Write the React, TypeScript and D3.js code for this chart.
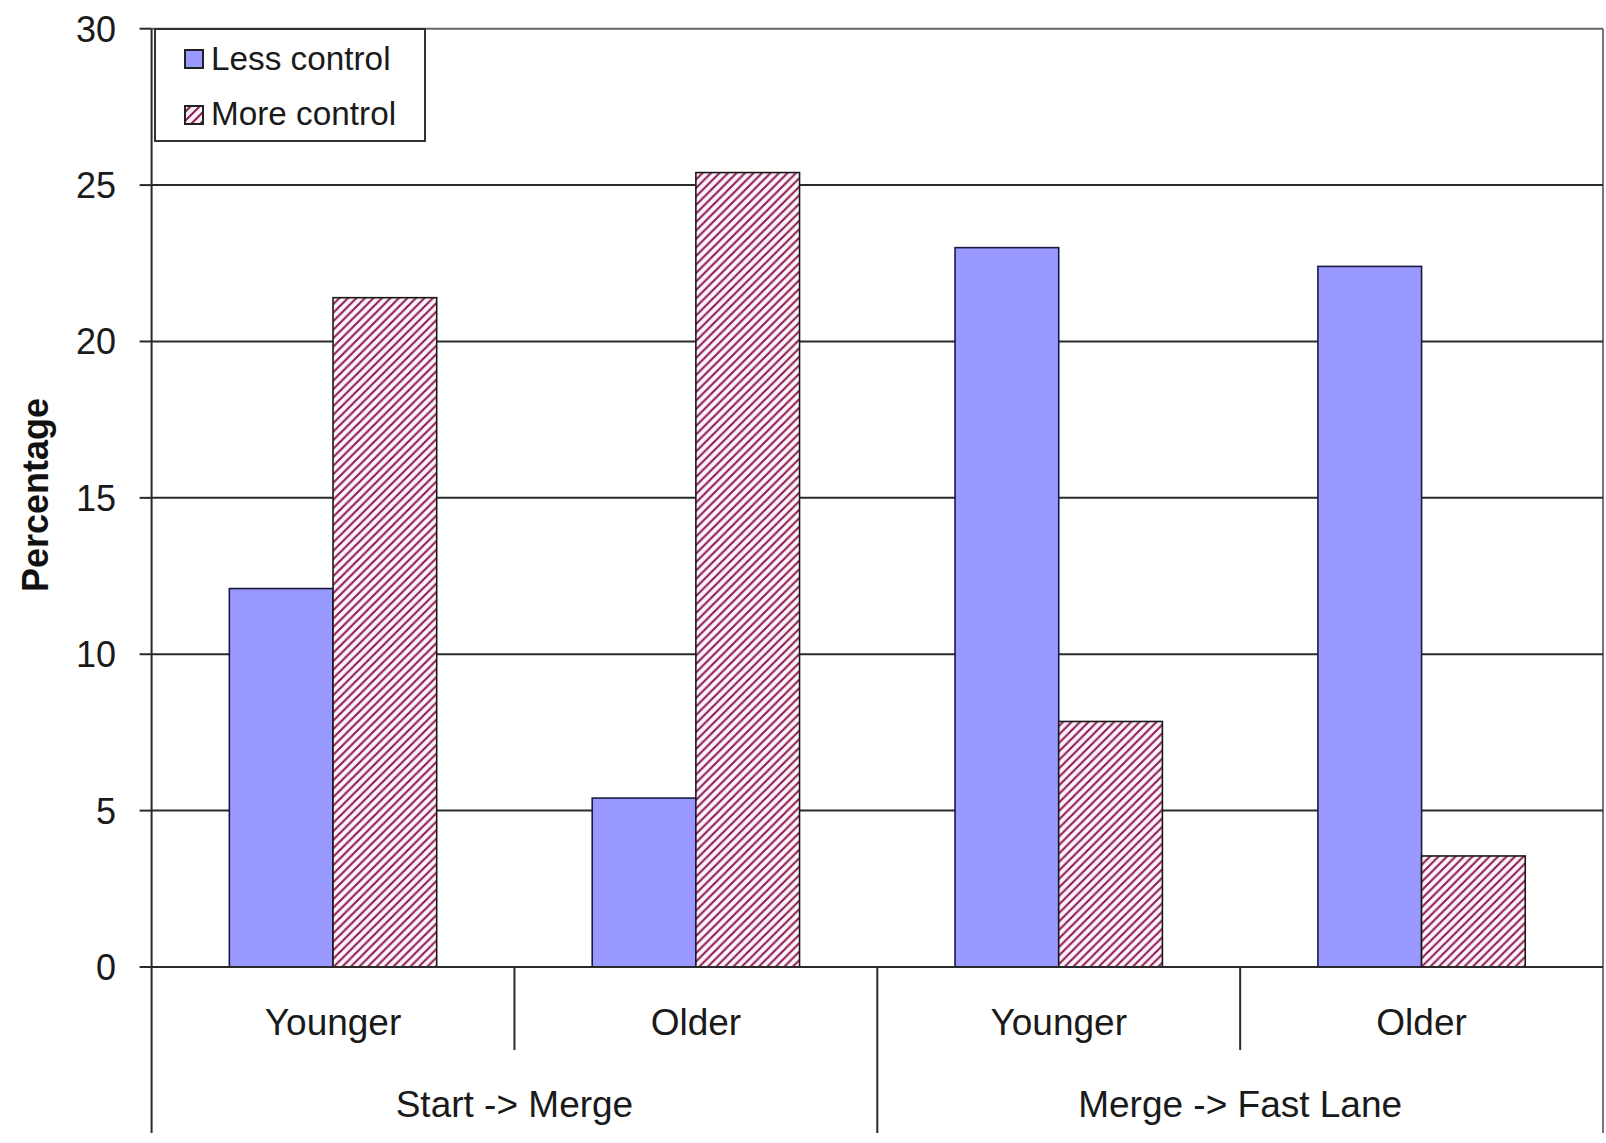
import React from "react";
import * as d3 from "d3";

const groups = ["Start -> Merge", "Merge -> Fast Lane"];
const subCategories = ["Younger", "Older", "Younger", "Older"];
const subGroupIndex = [0, 0, 1, 1];
const seriesNames = ["Less control", "More control"];
const lessControl = [12.1, 5.4, 23.0, 22.4];
const moreControl = [21.4, 25.4, 7.85, 3.55];
const yTicks = [0, 5, 10, 15, 20, 25, 30];
const yLabel = "Percentage";

const W = 1606;
const H = 1143;
const FONT = "'Liberation Sans', Arial, Helvetica, sans-serif";

export default function App() {
  const left = 151.6;
  const right = 1603;
  const top = 28.7;
  const bottom = 967;
  const axisBottom = 1133;

  const y = d3.scaleLinear().domain([0, 30]).range([bottom, top]);
  const x = d3
    .scaleBand<number>()
    .domain(subCategories.map((_, i) => i))
    .range([left, right])
    .paddingInner(0)
    .paddingOuter(0);
  const band = x.bandwidth();
  const barW = band / 3.5;
  const pairStart = (i: number) => (x(i) as number) + (band - 2 * barW) / 2;

  const groupX = d3
    .scaleBand<number>()
    .domain(groups.map((_, i) => i))
    .range([left, right]);

  const series = [lessControl, moreControl];
  const fills = ["#9999FF", "url(#hatch)"];
  const strokes = ["#1a1a40", "#1a1a1a"];

  return (
    <svg
      width={W}
      height={H}
      style={{ position: "absolute", left: 0, top: 0, display: "block", background: "#fff" }}
      fontFamily={FONT}
    >
      <defs>
        <pattern id="hatch" patternUnits="userSpaceOnUse" width={8.5} height={8.5}>
          <rect width={8.5} height={8.5} fill="#fff2f8" />
          <path
            d="M-2,2 L2,-2 M0,8.5 L8.5,0 M6.5,10.5 L10.5,6.5"
            stroke="#8a2055"
            strokeWidth={2.1}
          />
        </pattern>
        <pattern id="hatchSmall" patternUnits="userSpaceOnUse" width={9} height={9}>
          <rect width={9} height={9} fill="#fff2f8" />
          <path d="M-2,2 L2,-2 M0,9 L9,0 M7,11 L11,7" stroke="#8a2055" strokeWidth={2} />
        </pattern>
      </defs>

      {/* plot border (right) */}
      <line x1={right} x2={right} y1={top} y2={axisBottom} stroke="#777" strokeWidth={2} />

      {/* gridlines */}
      {yTicks
        .filter((t) => t > 0)
        .map((t) => (
          <line
            key={`g${t}`}
            x1={left}
            x2={right}
            y1={y(t)}
            y2={y(t)}
            stroke={t === 30 ? "#666" : "#2a2a2a"}
            strokeWidth={2}
          />
        ))}

      {/* bars */}
      {subCategories.map((_, i) =>
        series.map((vals, s) => (
          <rect
            key={`b${i}-${s}`}
            x={pairStart(i) + s * barW}
            y={y(vals[i])}
            width={barW}
            height={y(0) - y(vals[i])}
            fill={fills[s]}
            stroke={strokes[s]}
            strokeWidth={1.6}
          />
        ))
      )}

      {/* y axis */}
      <line x1={left} x2={left} y1={top} y2={axisBottom} stroke="#2a2a2a" strokeWidth={2} />
      {yTicks.map((t) => (
        <g key={`t${t}`}>
          <line x1={left - 12} x2={left} y1={y(t)} y2={y(t)} stroke="#2a2a2a" strokeWidth={2} />
          <text
            x={116}
            y={y(t)}
            dy="0.36em"
            textAnchor="end"
            fontSize={36}
            fill="#1a1a1a"
          >
            {t}
          </text>
        </g>
      ))}
      <text
        transform={`translate(48, 495) rotate(-90)`}
        textAnchor="middle"
        fontSize={36}
        fontWeight="bold"
        fill="#111"
      >
        {yLabel}
      </text>

      {/* category axis */}
      <line x1={left} x2={right} y1={bottom} y2={bottom} stroke="#2a2a2a" strokeWidth={2} />
      {subCategories.map((_, i) => {
        if (i === 0) return null;
        const xx = x(i) as number;
        const isGroupBoundary = subGroupIndex[i] !== subGroupIndex[i - 1];
        return (
          <line
            key={`d${i}`}
            x1={xx}
            x2={xx}
            y1={bottom}
            y2={isGroupBoundary ? axisBottom : 1050}
            stroke="#2a2a2a"
            strokeWidth={2}
          />
        );
      })}
      {subCategories.map((c, i) => (
        <text
          key={`c${i}`}
          x={(x(i) as number) + band / 2}
          y={1035}
          textAnchor="middle"
          fontSize={37}
          fill="#1a1a1a"
        >
          {c}
        </text>
      ))}
      {groups.map((g, i) => (
        <text
          key={`gr${i}`}
          x={(groupX(i) as number) + groupX.bandwidth() / 2}
          y={1117}
          textAnchor="middle"
          fontSize={37}
          fill="#1a1a1a"
        >
          {g}
        </text>
      ))}

      {/* legend */}
      <rect x={155} y={29} width={270} height={112} fill="#fff" stroke="#333" strokeWidth={2} />
      {seriesNames.map((n, s) => (
        <g key={`l${s}`}>
          <rect
            x={185}
            y={50 + s * 56}
            width={18}
            height={18}
            fill={s === 0 ? "#9999FF" : "url(#hatchSmall)"}
            stroke="#222"
            strokeWidth={2}
          />
          <text x={211} y={70 + s * 55} fontSize={33.3} fill="#1a1a1a">
            {n}
          </text>
        </g>
      ))}
    </svg>
  );
}
